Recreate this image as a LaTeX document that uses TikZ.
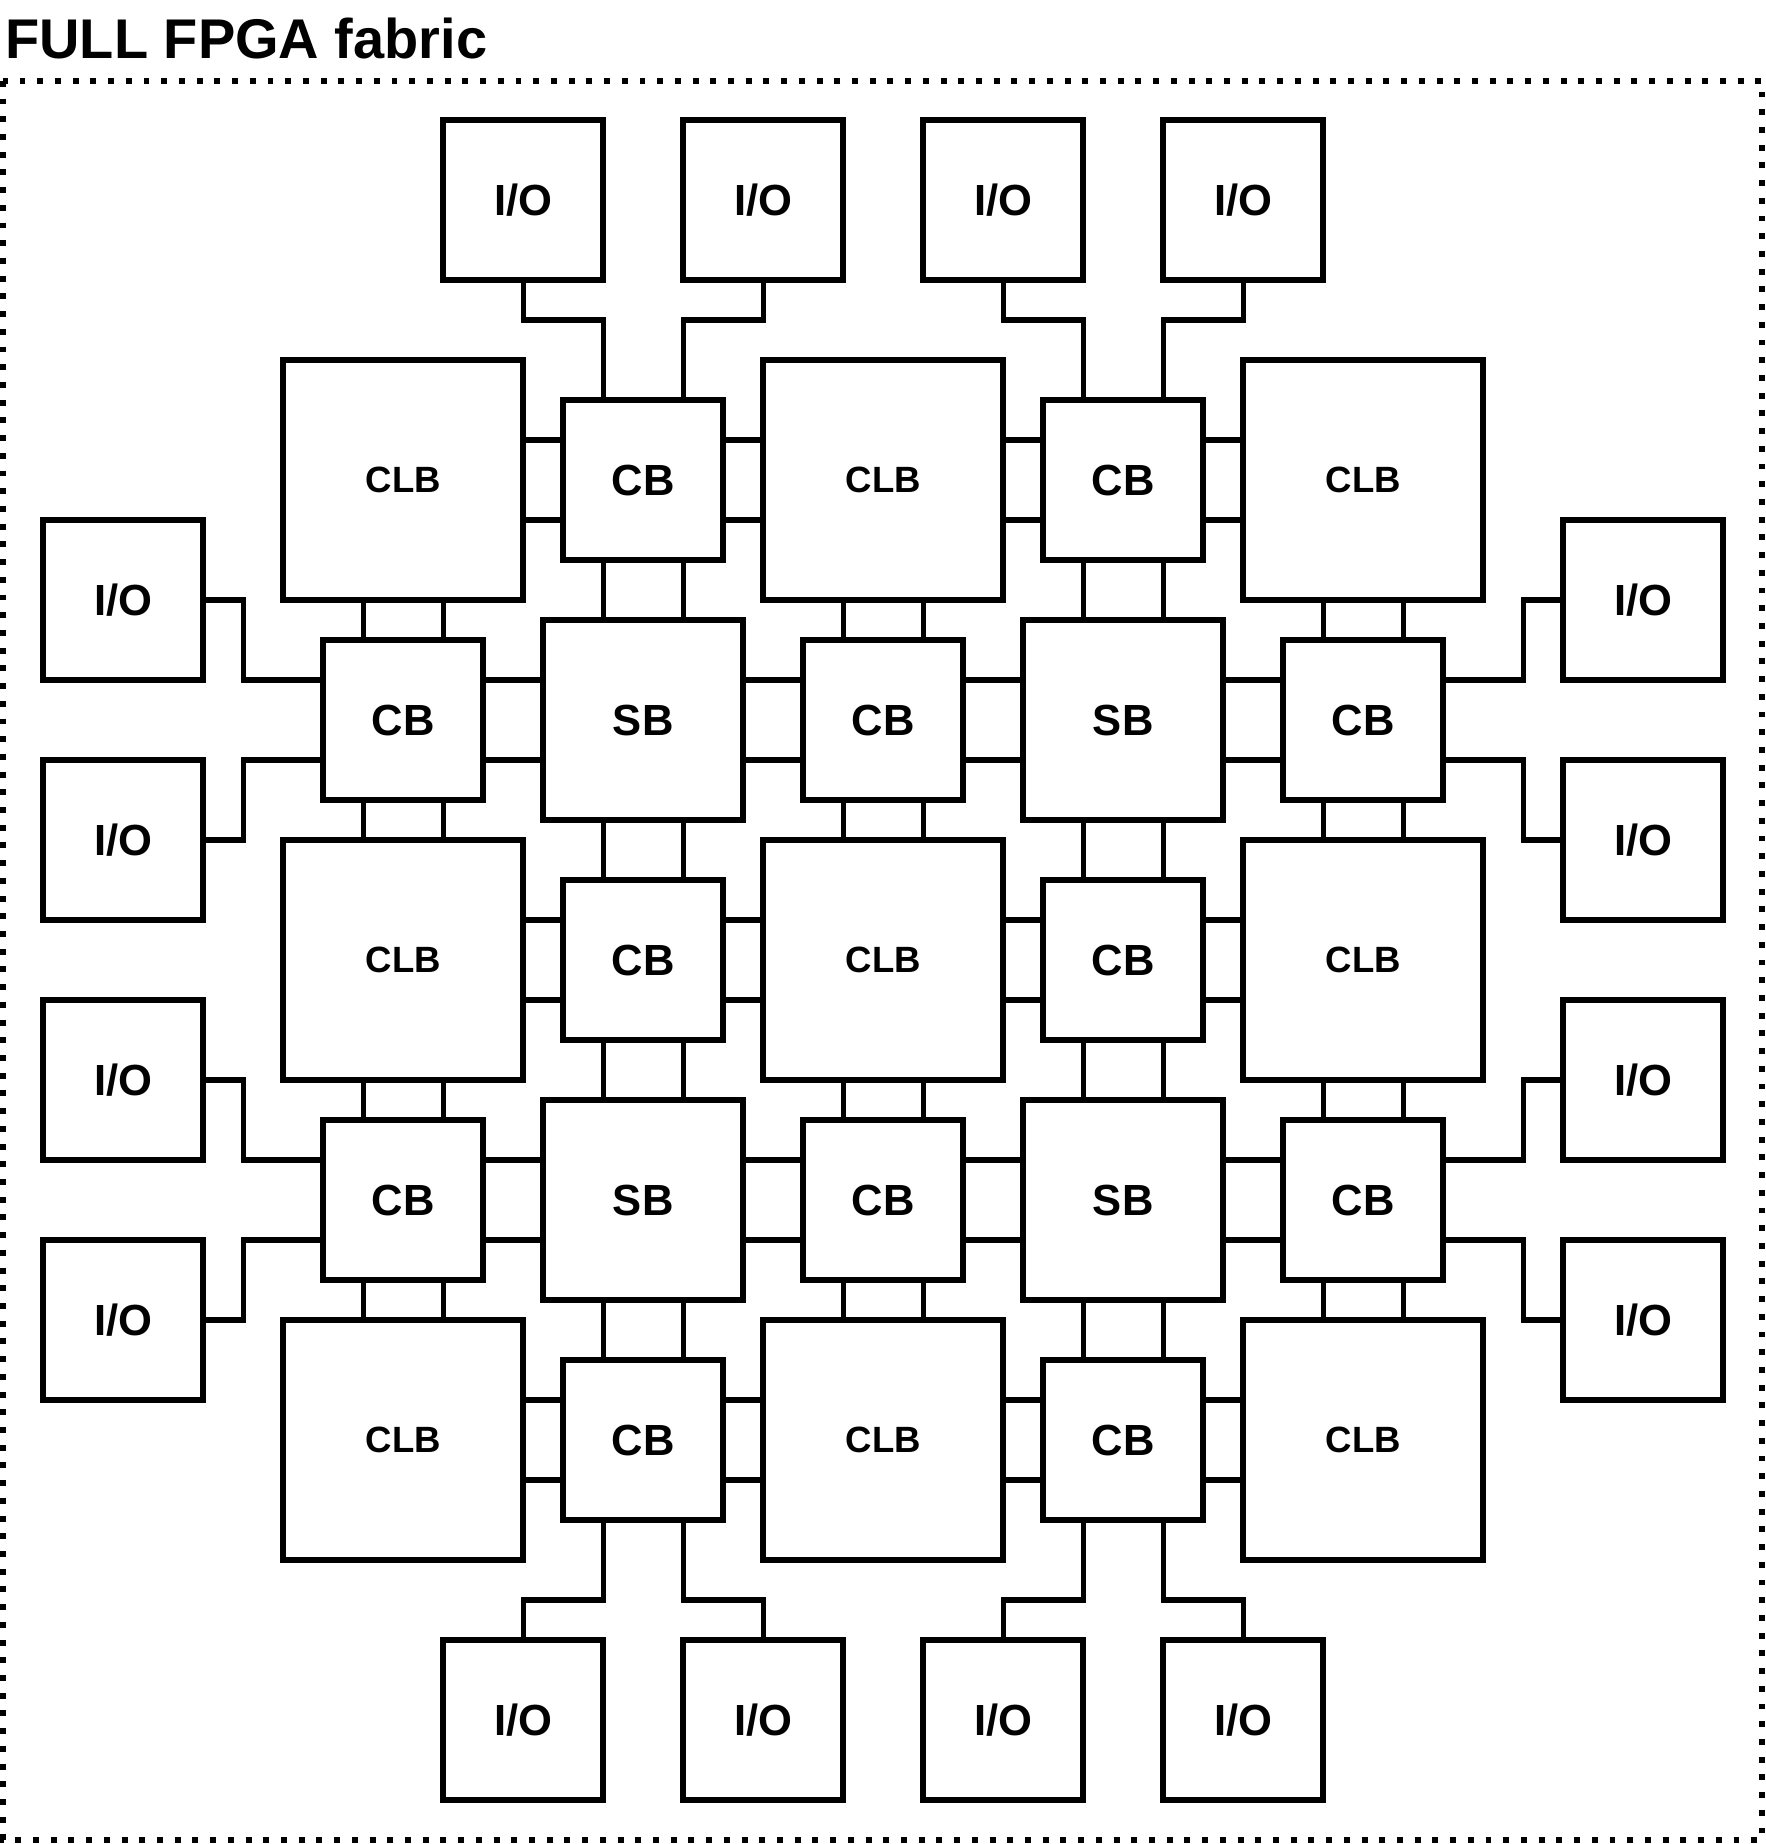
\documentclass[tikz,border=0pt]{standalone}
\usepackage{fontspec}
\setmainfont{Liberation Sans}
\usetikzlibrary{calc}
\tikzset{
  blk/.style={draw, line width=2pt, inner sep=0pt, outer sep=0pt, fill=white},
  clbbox/.style={blk, minimum size=3cm, font=\bfseries\fontsize{13pt}{15pt}\selectfont},
  cbbox/.style={blk, minimum size=2cm, font=\bfseries\fontsize{15.5pt}{18pt}\selectfont},
  sbbox/.style={blk, minimum size=2.5cm, font=\bfseries\fontsize{15.5pt}{18pt}\selectfont},
  iobox/.style={blk, minimum size=2cm, font=\bfseries\fontsize{15.5pt}{18pt}\selectfont},
  wire/.style={line width=1.8pt},
  fabric/.style={line width=2.1pt, dash pattern=on 2.1pt off 4.2pt},
}

\begin{document}
\begin{tikzpicture}
  \useasboundingbox (0,0) rectangle (22.075,-23.05);
  % --- title and dotted frame ---
  \node[anchor=base west, inner sep=0pt, font=\bfseries\fontsize{19.9pt}{23pt}\selectfont] (title) at (0.06,-0.73) {FULL FPGA fabric};
  \draw[fabric] (0.04,-1.01) rectangle (22.03,-23.0);
  % --- logic blocks, switch boxes, connection boxes ---
  \foreach \i in {0,2,4}
    \foreach \j in {0,2,4}
      \node[clbbox] (n-\i-\j) at ({5.04+3*\i},{-6-3*\j}) {CLB};
  \foreach \i in {1,3}
    \foreach \j in {1,3}
      \node[sbbox] (n-\i-\j) at ({5.04+3*\i},{-6-3*\j}) {SB};
  \foreach \i in {1,3}
    \foreach \j in {0,2,4}
      \node[cbbox] (n-\i-\j) at ({5.04+3*\i},{-6-3*\j}) {CB};
  \foreach \i in {0,2,4}
    \foreach \j in {1,3}
      \node[cbbox] (n-\i-\j) at ({5.04+3*\i},{-6-3*\j}) {CB};
  % --- wire pairs between neighbours ---
  \foreach \i [evaluate=\i as \k using int(\i+1)] in {0,...,3}
    \foreach \j in {0,...,4} {
      \draw[wire] ([yshift=5mm]n-\i-\j.east) -- ([yshift=5mm]n-\k-\j.west);
      \draw[wire] ([yshift=-5mm]n-\i-\j.east) -- ([yshift=-5mm]n-\k-\j.west);
      \draw[wire] ([xshift=-5mm]n-\j-\i.south) -- ([xshift=-5mm]n-\j-\k.north);
      \draw[wire] ([xshift=5mm]n-\j-\i.south) -- ([xshift=5mm]n-\j-\k.north);
    }
  % --- I/O pads ---
  \foreach \c/\n in {1/1,3/3} {
    \node[iobox] (io-t\n) at ({5.04+3*\c-1.5},-2.5) {I/O};
    \node[iobox] (io-b\n) at ({5.04+3*\c-1.5},-21.5) {I/O};
    \node[iobox] (io-l\n) at (1.54,{-6-3*\c+1.5}) {I/O};
    \node[iobox] (io-r\n) at (20.54,{-6-3*\c+1.5}) {I/O};
  }
  \foreach \c/\n in {1/2,3/4} {
    \node[iobox] (io-t\n) at ({5.04+3*\c+1.5},-2.5) {I/O};
    \node[iobox] (io-b\n) at ({5.04+3*\c+1.5},-21.5) {I/O};
    \node[iobox] (io-l\n) at (1.54,{-6-3*\c-1.5}) {I/O};
    \node[iobox] (io-r\n) at (20.54,{-6-3*\c-1.5}) {I/O};
  }
  % --- I/O wiring ---
  \foreach \c/\a/\b in {1/1/2,3/3/4} {
    \draw[wire] ([xshift=-5mm]n-\c-0.north) -- ++(0,1) -| (io-t\a.south);
    \draw[wire] ([xshift=5mm]n-\c-0.north) -- ++(0,1) -| (io-t\b.south);
    \draw[wire] ([xshift=-5mm]n-\c-4.south) -- ++(0,-1) -| (io-b\a.north);
    \draw[wire] ([xshift=5mm]n-\c-4.south) -- ++(0,-1) -| (io-b\b.north);
    \draw[wire] (io-l\a.east) -- ++(0.5,0) |- ([yshift=5mm]n-0-\c.west);
    \draw[wire] (io-l\b.east) -- ++(0.5,0) |- ([yshift=-5mm]n-0-\c.west);
    \draw[wire] ([yshift=5mm]n-4-\c.east) -- ++(1,0) |- (io-r\a.west);
    \draw[wire] ([yshift=-5mm]n-4-\c.east) -- ++(1,0) |- (io-r\b.west);
  }
\end{tikzpicture}
\end{document}
